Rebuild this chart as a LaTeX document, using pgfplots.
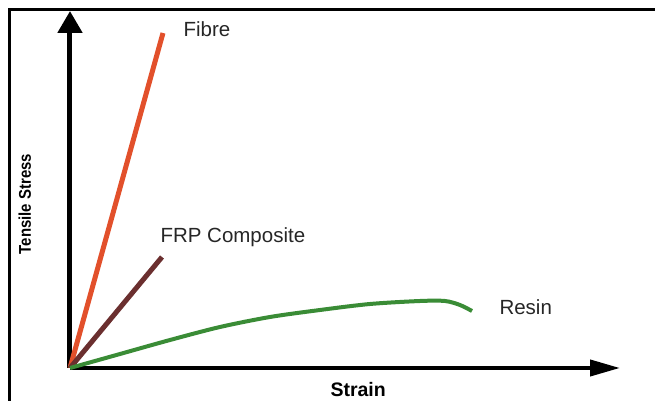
\documentclass[border=0pt]{standalone}
\usepackage{fontspec}
\setmainfont{Liberation Sans}
\usepackage{pgfplots}
\pgfplotsset{compat=1.18}
\usetikzlibrary{arrows.meta}
\definecolor{fibre}{HTML}{E2502B}
\definecolor{frp}{HTML}{6B2F2F}
\definecolor{resin}{HTML}{3A8C36}
\begin{document}
\begin{tikzpicture}
\path[use as bounding box] (0,0) rectangle (655pt,401pt);
\draw[line width=3pt] (9.5pt,0) -- (9.5pt,391pt) -- (655pt,391pt);
\begin{axis}[
  at={(70pt,33pt)}, anchor=south west,
  x=1pt, y=1pt,
  xmin=0, xmax=550, ymin=0, ymax=357,
  axis lines=left,
  xtick=\empty, ytick=\empty,
  x axis line style={line width=4pt, -{Triangle[length=30pt,width=16pt]}},
  y axis line style={line width=5pt, -{Triangle[length=22pt,width=24pt]}},
  clip=false,
]
% Fibre
\addplot[fibre, line width=5pt] coordinates {(0,0) (93,335)};
% FRP composite
\addplot[frp, line width=5pt] coordinates {(0,0) (92,111)};
% Resin
\addplot[resin, line width=4pt, smooth, tension=0.5] coordinates {
(0,0) (25,7) (50,14) (100,28) (150,41) (200,51) (250,58) (300,64) (350,67) (375,67) (390,63) (402,57)};
\node[anchor=base west, font=\fontsize{20.5}{24}\selectfont, text=black!85] at (axis cs:110,331) {Fibre};
\node[anchor=base west, font=\fontsize{20.5}{24}\selectfont, text=black!85] at (axis cs:87,125) {FRP Composite};
\node[anchor=base west, font=\fontsize{20.5}{24}\selectfont, text=black!85] at (axis cs:426,53) {Resin};
\node[anchor=base west, font=\bfseries\fontsize{19.5}{22}\selectfont] at (axis cs:257,-29) {Strain};
\node[anchor=base, rotate=90, xscale=0.88, font=\bfseries\fontsize{17}{20}\selectfont] at (axis cs:-39,164) {Tensile Stress};
\end{axis}
\end{tikzpicture}
\end{document}
